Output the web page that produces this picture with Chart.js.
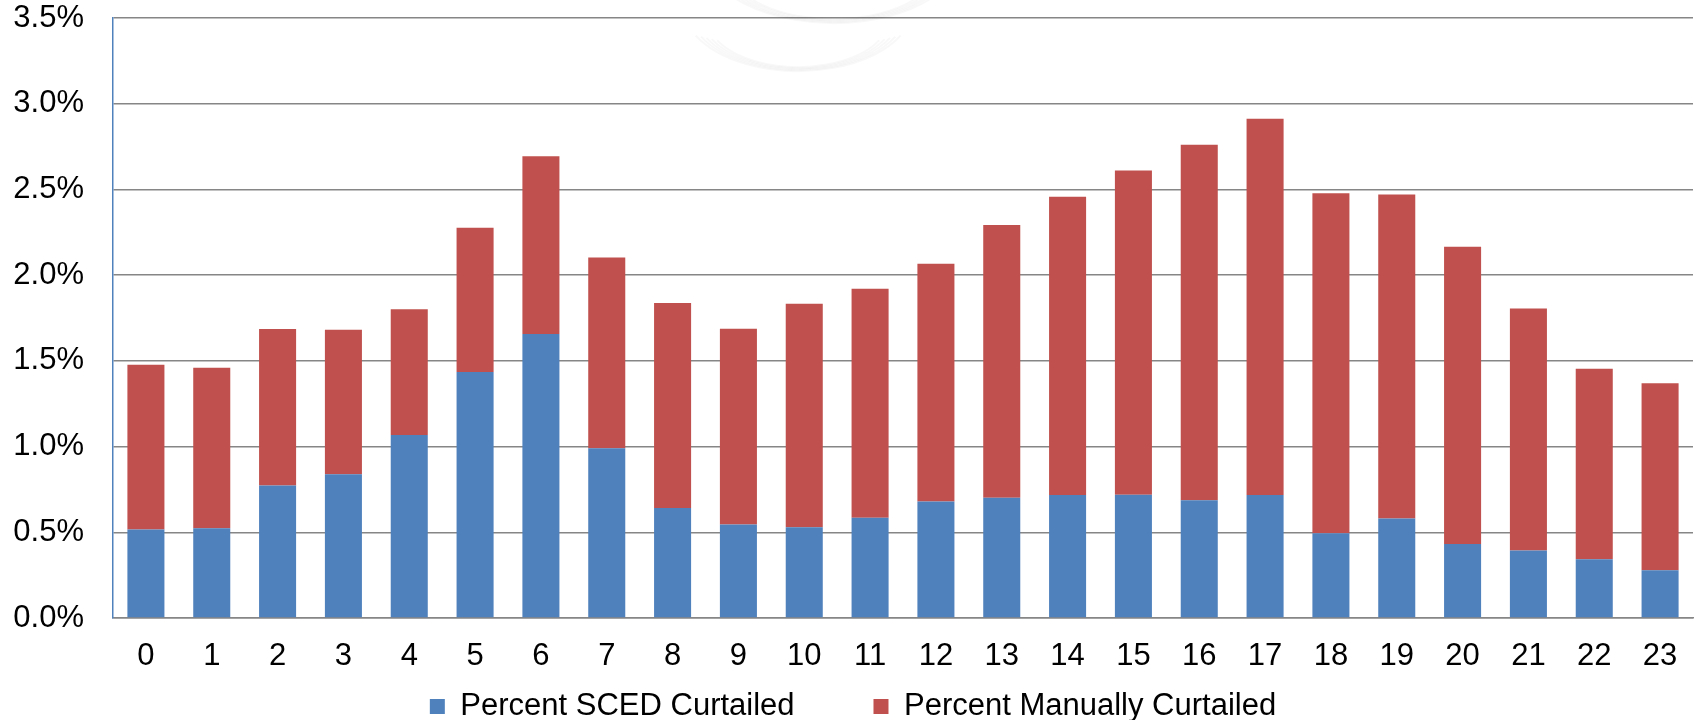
<!DOCTYPE html>
<html>
<head>
<meta charset="utf-8">
<script src="https://cdn.jsdelivr.net/npm/chart.js@4"></script>
<style>
  html, body { margin: 0; padding: 0; background: #fff; }
  #wrap { width: 1698px; height: 720px; position: relative; }
</style>
</head>
<body>
<div id="wrap"><canvas id="chart"></canvas></div>
<script>
// Hour of day
const hours = ['0','1','2','3','4','5','6','7','8','9','10','11','12','13','14','15','16','17','18','19','20','21','22','23'];

// Share of generation curtailed by SCED, percent
const scedCurtailed = [0.516, 0.523, 0.773, 0.838, 1.068, 1.435, 1.656, 0.990, 0.642, 0.546, 0.529, 0.585,
                       0.679, 0.702, 0.717, 0.719, 0.687, 0.717, 0.494, 0.580, 0.432, 0.394, 0.343, 0.279];

// Share of generation curtailed manually, percent (stacked on top of SCED)
const manualCurtailed = [0.961, 0.937, 0.913, 0.844, 0.733, 0.841, 1.037, 1.113, 1.195, 1.142, 1.304, 1.335,
                         1.387, 1.591, 1.741, 1.891, 2.074, 2.196, 1.983, 1.890, 1.733, 1.411, 1.111, 1.091];

const seriesNames = ['Percent SCED Curtailed', 'Percent Manually Curtailed'];

const FONT = 'Liberation Sans, Arial, Helvetica, sans-serif';

// Faint swoosh watermark behind the bars
const watermark = {
  id: 'watermark',
  beforeDatasetsDraw(chart) {
    const { ctx, chartArea } = chart;
    const cx = chartArea.left + (chartArea.right - chartArea.left) * 0.44;
    ctx.save();
    ctx.strokeStyle = 'rgba(0,0,0,0.028)';
    ctx.lineWidth = 2;
    for (let i = 0; i < 5; i++) {
      ctx.beginPath();
      ctx.ellipse(cx - 10, chartArea.top - 12 + i * 3, 115 - i * 6, 65 - i * 4, 0, 0.15 * Math.PI, 0.85 * Math.PI);
      ctx.stroke();
    }
    for (let i = 0; i < 5; i++) {
      ctx.beginPath();
      ctx.ellipse(cx + 25, chartArea.top - 60 + i * 3, 125 - i * 6, 65 - i * 4, 0, 0.1 * Math.PI, 0.9 * Math.PI);
      ctx.stroke();
    }
    ctx.restore();
  }
};

new Chart(document.getElementById('chart'), {
  type: 'bar',
  data: {
    labels: hours,
    datasets: [
      { label: seriesNames[0], data: scedCurtailed, backgroundColor: '#4F81BD', borderWidth: 0 },
      { label: seriesNames[1], data: manualCurtailed, backgroundColor: '#C0504D', borderWidth: 0 }
    ]
  },
  options: {
    responsive: true,
    maintainAspectRatio: false,
    animation: false,
    datasets: { bar: { categoryPercentage: 1.0, barPercentage: 0.5625 } },
    layout: { padding: { left: 13, right: 5, top: 0, bottom: -12 } },
    scales: {
      x: {
        stacked: true,
        grid: { display: false, drawTicks: false },
        border: { display: true, color: '#868686', width: 1.5 },
        ticks: { color: '#000', padding: 20, font: { family: FONT, size: 31 }, maxRotation: 0, autoSkip: false },
        afterFit(scale) {
          scale.height = 63;
          scale.paddingLeft = 0;
          scale.paddingRight = 0;
        }
      },
      y: {
        stacked: true,
        min: 0,
        max: 3.5,
        grid: { color: '#868686', lineWidth: 1.5, drawTicks: false },
        border: { display: true, color: '#4F81BD', width: 1.5 },
        ticks: {
          stepSize: 0.5,
          padding: 29,
          color: '#000',
          font: { family: FONT, size: 31 },
          callback: v => v.toFixed(1) + '%'
        },
        afterFit(scale) {
          scale.width = 100;
          scale.paddingTop = 18;
          scale.paddingBottom = 0;
        }
      }
    },
    plugins: {
      legend: {
        position: 'bottom',
        labels: {
          boxWidth: 15,
          boxHeight: 15,
          color: '#000',
          font: { family: FONT, size: 31 },
          padding: 10,
          generateLabels(chart) {
            const items = Chart.defaults.plugins.legend.labels.generateLabels(chart);
            // widen the gap between the two entries
            items[0].text = items[0].text + '\u00a0'.repeat(8);
            items.forEach(it => { it.lineWidth = 0; });
            return items;
          }
        }
      },
      tooltip: { enabled: false }
    }
  },
  plugins: [watermark]
});
</script>
</body>
</html>
